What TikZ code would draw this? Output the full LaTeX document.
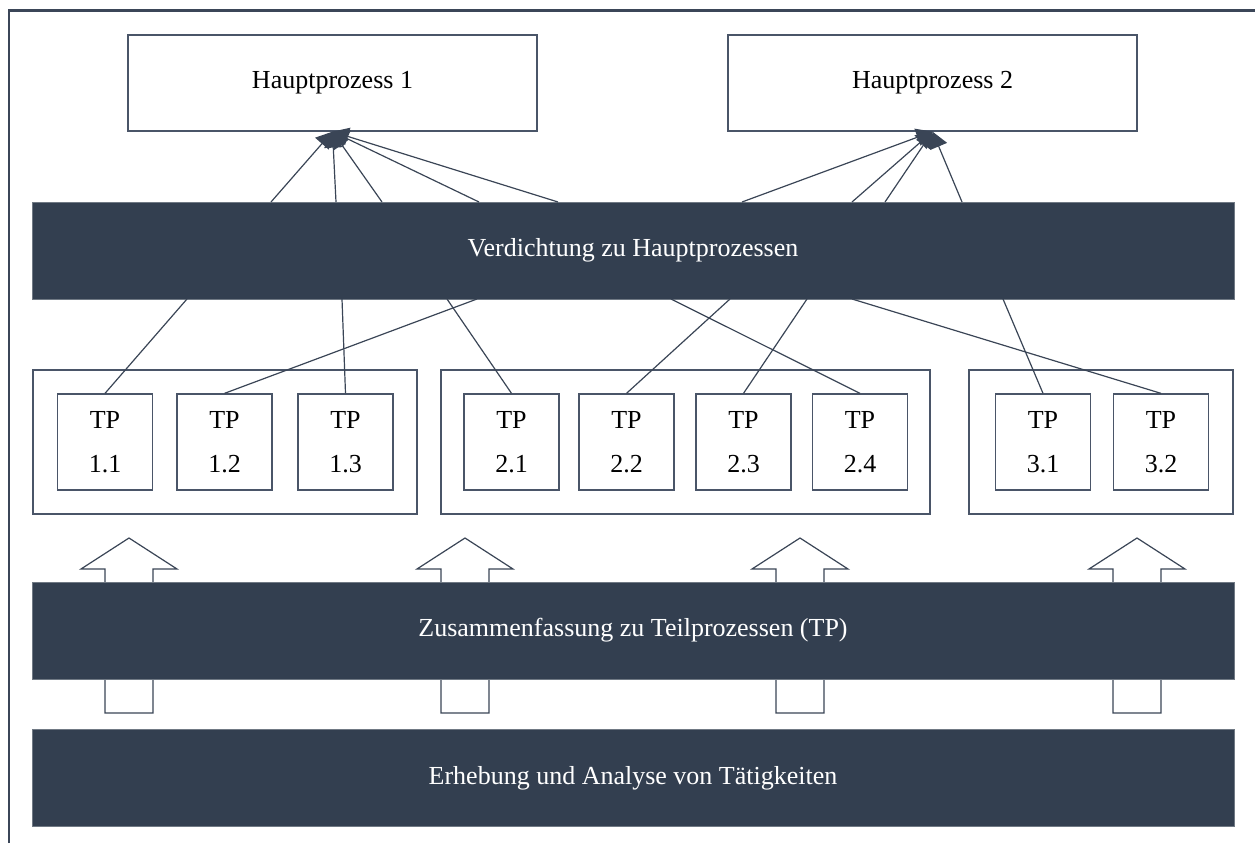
\documentclass[tikz,border=0pt]{standalone}
\usepackage{fontspec}
\setmainfont{Liberation Serif}
\usetikzlibrary{arrows.meta}

\definecolor{slate}{HTML}{333F50}
\definecolor{boxline}{HTML}{4A5568}
\definecolor{wire}{HTML}{3A4556}
\definecolor{frameline}{HTML}{3B4658}

\begin{document}
\begin{tikzpicture}[x=1pt,y=-1pt,
  every node/.style={font=\fontsize{26}{30}\selectfont, inner sep=0pt},
  hpbox/.style={draw=boxline, line width=1.3pt, fill=white,
    minimum width=409pt, minimum height=96pt},
  bar/.style={draw=slate!70!white, line width=0.8pt, fill=slate, text=white,
    minimum width=1202pt, minimum height=97pt},
  groupbox/.style={draw=boxline, line width=1.3pt, minimum height=144pt},
  tpbox/.style={draw=boxline, line width=1.3pt, fill=white,
    minimum width=95pt, minimum height=96pt, align=center,
    font=\fontsize{26}{44}\selectfont},
  link/.style={draw=wire, line width=1.2pt},
  uplink/.style={link, -{Triangle[length=16pt,width=18pt]}},
  blockarrow/.style={draw=wire, line width=1.2pt, fill=white, line join=miter},
  frame/.style={draw=frameline, line width=2.6pt}
]
\useasboundingbox (0,0) rectangle (1255,843);

% outer frame (top and left edges)
\draw[frame] (9,843) -- (9,10.5) -- (1255,10.5);

% main processes
\node[hpbox] (HP1) at (332.5,83) {Hauptprozess 1};
\node[hpbox] (HP2) at (932.5,83) {Hauptprozess 2};

% hollow block arrows, partly hidden behind the middle bar
\foreach \c in {129,465,800,1137}{
  \draw[blockarrow] (\c-24,713) -- (\c-24,569) -- (\c-48,569) -- (\c,538)
    -- (\c+48,569) -- (\c+24,569) -- (\c+24,713) -- cycle;
}

% horizontal bars
\node[bar] (V) at (633,250.5) {Verdichtung zu Hauptprozessen};
\node[bar] (Z) at (633,630.5) {Zusammenfassung zu Teilprozessen (TP)};
\node[bar] (E) at (633,778) {Erhebung und Analyse von Tätigkeiten};

% groups of sub-processes
\node[groupbox, minimum width=384pt] (G1) at (225,442) {};
\node[groupbox, minimum width=489pt] (G2) at (685.5,442) {};
\node[groupbox, minimum width=264pt] (G3) at (1101,442) {};

% sub-processes
\node[tpbox] (T11) at (105,442) {TP\\1.1};
\node[tpbox] (T12) at (224.5,442) {TP\\1.2};
\node[tpbox] (T13) at (345.5,442) {TP\\1.3};
\node[tpbox] (T21) at (511.5,442) {TP\\2.1};
\node[tpbox] (T22) at (626.5,442) {TP\\2.2};
\node[tpbox] (T23) at (743.5,442) {TP\\2.3};
\node[tpbox] (T24) at (860,442) {TP\\2.4};
\node[tpbox] (T31) at (1043,442) {TP\\3.1};
\node[tpbox] (T32) at (1161,442) {TP\\3.2};

% attachment points on the top edge of the upper bar
\coordinate (a1) at (271,202);
\coordinate (a2) at (336,202);
\coordinate (a3) at (382,202);
\coordinate (a4) at (479,202);
\coordinate (a5) at (558,202);
\coordinate (b1) at (742,202);
\coordinate (b2) at (852,202);
\coordinate (b3) at (885,202);
\coordinate (b4) at (962,202);

\foreach \p in {a1,a2,a3,a4,a5}{ \draw[uplink] (\p) -- (HP1.south); }
\foreach \p in {b1,b2,b3,b4}{ \draw[uplink] (\p) -- (HP2.south); }

% attachment points on the bottom edge of the upper bar
\coordinate (c11) at (187,299);
\coordinate (c12) at (477,299);
\coordinate (c13) at (342,299);
\coordinate (c21) at (447,299);
\coordinate (c22) at (730,299);
\coordinate (c23) at (807,299);
\coordinate (c24) at (671,299);
\coordinate (c31) at (1003,299);
\coordinate (c32) at (852,299);

\draw[link] (c11) -- (T11.north);
\draw[link] (c12) -- (T12.north);
\draw[link] (c13) -- (T13.north);
\draw[link] (c21) -- (T21.north);
\draw[link] (c22) -- (T22.north);
\draw[link] (c23) -- (T23.north);
\draw[link] (c24) -- (T24.north);
\draw[link] (c31) -- (T31.north);
\draw[link] (c32) -- (T32.north);
\end{tikzpicture}
\end{document}
